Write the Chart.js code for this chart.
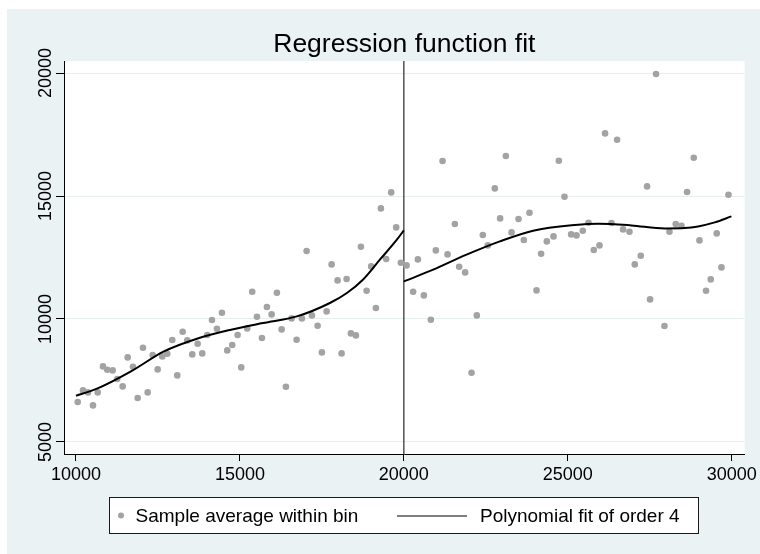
<!DOCTYPE html>
<html><head><meta charset="utf-8">
<script src="https://cdn.jsdelivr.net/npm/chart.js@4.4.1/dist/chart.umd.min.js"></script>
<style>html,body{margin:0;padding:0;background:#fff;}canvas{display:block;}</style>
</head><body>
<canvas id="c" width="760" height="554"></canvas>
<script>
const titleText = "Regression function fit";
const legendLabels = ["Sample average within bin", "Polynomial fit of order 4"];
const xTickValues = [10000, 15000, 20000, 25000, 30000];
const yTickValues = [5000, 10000, 15000, 20000];
const cutoff = [20000];

const binXLeft = [10052,10213,10366,10518,10662,10823,10954,11119,11259,11424,11576,11738,11881,12043,12186,12339,12491,12631,12784,12936,13089,13253,13394,13546,13711,13851,14003,14147,14299,14452,14613,14766,14930,15040,15223,15375,15519,15671,15824,15967,16128,16272,16403,16577,16729,16891,17034,17196,17370,17501,17644,17797,17979,18101,18254,18385,18537,18690,18864,19004,19147,19300,19461,19614,19766,19909];
const binYLeft = [6626,7098,7016,6488,7016,8073,7939,7911,7561,7260,8439,8061,6789,8833,7016,8537,7951,8480,8589,9146,7707,9484,9130,8561,8996,8602,9350,9959,9606,10256,8724,8943,9350,8033,9618,11110,10093,9228,10488,10187,11069,9577,7248,10024,9159,10024,12764,10146,9728,8642,10309,12219,11569,8602,11626,9415,9333,12939,11150,12138,10447,14496,12439,15146,13724,12289];
const binXRight = [20083,20284,20428,20611,20824,20976,21181,21333,21556,21687,21870,22065,22226,22409,22562,22775,22937,23111,23285,23498,23660,23833,24047,24187,24361,24565,24727,24900,25102,25266,25458,25632,25794,25968,26138,26333,26504,26687,26882,27044,27227,27419,27510,27693,27950,28102,28294,28468,28639,28843,29017,29218,29361,29544,29688,29901];
const binYRight = [12179,11110,12423,10959,9972,12789,16423,12626,13862,12126,11894,7817,10146,13415,12992,15309,14089,16626,13520,14065,13211,14321,11163,12654,13154,13358,16435,14971,13439,13398,13589,13915,12805,12992,17545,13902,17289,13642,13549,12219,12573,15390,10797,19959,9715,13549,13862,13793,15163,16557,13195,11150,11610,13480,12098,15053];

const fitXLeft = [10000,10640,11677,12683,13689,14726,15702,16738,17744,18263,18750,19269,19787,20000];
const fitYLeft = [6882,7167,7870,8683,9199,9565,9837,10106,10650,11057,11598,12411,13224,13602];
const fitXRight = [20000,20894,21912,22928,23943,25214,25925,26943,27959,28569,28974,29483,29992];
const fitYRight = [11528,12004,12614,13154,13589,13821,13874,13805,13683,13699,13764,13927,14171];

const FONT = "'Liberation Sans', Arial, Helvetica, sans-serif";
const pts = (xs, ys) => xs.map((x, i) => ({x: x, y: ys[i]}));

const decor = {
  id: 'decor',
  beforeDraw(chart) {
    const ctx = chart.ctx, a = chart.chartArea;
    ctx.save();
    ctx.fillStyle = '#ffffff';
    ctx.fillRect(0, 0, chart.width, chart.height);
    ctx.fillStyle = '#eaf2f3';
    ctx.fillRect(7, 9, chart.width - 7, chart.height - 9);
    ctx.fillStyle = '#ffffff';
    ctx.fillRect(a.left, a.top, a.right - a.left, a.bottom - a.top);
    ctx.restore();
  },
  beforeDatasetsDraw(chart) {
    const ctx = chart.ctx, a = chart.chartArea, xs = chart.scales.x;
    ctx.save();
    ctx.strokeStyle = '#3a3a3a';
    ctx.lineWidth = 1.3;
    cutoff.forEach(v => {
      const px = xs.getPixelForValue(v);
      ctx.beginPath(); ctx.moveTo(px, a.top); ctx.lineTo(px, a.bottom); ctx.stroke();
    });
    ctx.restore();
  },
  afterDraw(chart) {
    const ctx = chart.ctx, a = chart.chartArea, ys = chart.scales.y;
    ctx.save();
    // y tick labels, rotated
    ctx.fillStyle = '#000';
    ctx.font = '18px ' + FONT;
    ctx.textAlign = 'center';
    ctx.textBaseline = 'alphabetic';
    yTickValues.forEach(v => {
      const py = ys.getPixelForValue(v);
      ctx.save();
      ctx.translate(a.left - 13.5, py);
      ctx.rotate(-Math.PI / 2);
      ctx.fillText(String(v), 0, 0);
      ctx.restore();
    });
    // title
    ctx.font = '26.5px ' + FONT;
    ctx.textAlign = 'center';
    ctx.fillText(titleText, (a.left + a.right) / 2, 52);
    // legend
    const lx = 109.5, ly = 497.5, lw = 589, lh = 36;
    ctx.fillStyle = '#ffffff';
    ctx.fillRect(lx, ly, lw, lh);
    ctx.strokeStyle = '#1a1a1a';
    ctx.lineWidth = 1;
    ctx.strokeRect(lx, ly, lw, lh);
    ctx.fillStyle = '#a3a3a3';
    ctx.beginPath(); ctx.arc(121, 515.5, 3, 0, Math.PI * 2); ctx.fill();
    ctx.fillStyle = '#000';
    ctx.font = '19px ' + FONT;
    ctx.textAlign = 'left';
    ctx.fillText(legendLabels[0], 135.5, 522);
    ctx.strokeStyle = '#000';
    ctx.lineWidth = 1.2;
    ctx.beginPath(); ctx.moveTo(397, 516); ctx.lineTo(467, 516); ctx.stroke();
    ctx.fillText(legendLabels[1], 480, 522);
    ctx.restore();
  }
};

new Chart(document.getElementById('c'), {
  type: 'scatter',
  data: {
    datasets: [
      {
        label: legendLabels[0],
        data: pts(binXLeft, binYLeft).concat(pts(binXRight, binYRight)),
        backgroundColor: '#a3a3a3', borderWidth: 0, pointRadius: 3.3, showLine: false, order: 2
      },
      {
        label: legendLabels[1],
        data: pts(fitXLeft, fitYLeft),
        showLine: true, borderColor: '#000', borderWidth: 2, pointRadius: 0,
        cubicInterpolationMode: 'monotone', fill: false, order: 1
      },
      {
        label: legendLabels[1] + ' (right)',
        data: pts(fitXRight, fitYRight),
        showLine: true, borderColor: '#000', borderWidth: 2, pointRadius: 0,
        cubicInterpolationMode: 'monotone', fill: false, order: 1
      }
    ]
  },
  options: {
    responsive: false, animation: false, devicePixelRatio: 1,
    layout: {padding: {left: 7, top: 61, right: 15, bottom: 60}},
    plugins: {legend: {display: false}, title: {display: false}, tooltip: {enabled: false}},
    scales: {
      x: {
        type: 'linear', min: 9634, max: 30396,
        afterBuildTicks: s => { s.ticks = xTickValues.map(v => ({value: v})); },
        afterFit: s => { s.height = 40; },
        grid: {drawOnChartArea: false, drawTicks: true, tickLength: 7, tickColor: '#000', tickWidth: 1},
        border: {display: true, color: '#000', width: 1},
        ticks: {color: '#000', font: {family: FONT, size: 18}, padding: 3, maxRotation: 0, minRotation: 0, autoSkip: false,
                callback: v => String(v)}
      },
      y: {
        type: 'linear', min: 4512, max: 20488,
        afterBuildTicks: s => { s.ticks = yTickValues.map(v => ({value: v})); },
        afterFit: s => { s.width = 57; },
        grid: {drawOnChartArea: true, color: '#e6eef0', lineWidth: 1, drawTicks: true, tickLength: 8, tickColor: '#000', tickWidth: 1},
        border: {display: true, color: '#000', width: 1},
        ticks: {display: false}
      }
    }
  },
  plugins: [decor]
});
</script>
</body></html>
